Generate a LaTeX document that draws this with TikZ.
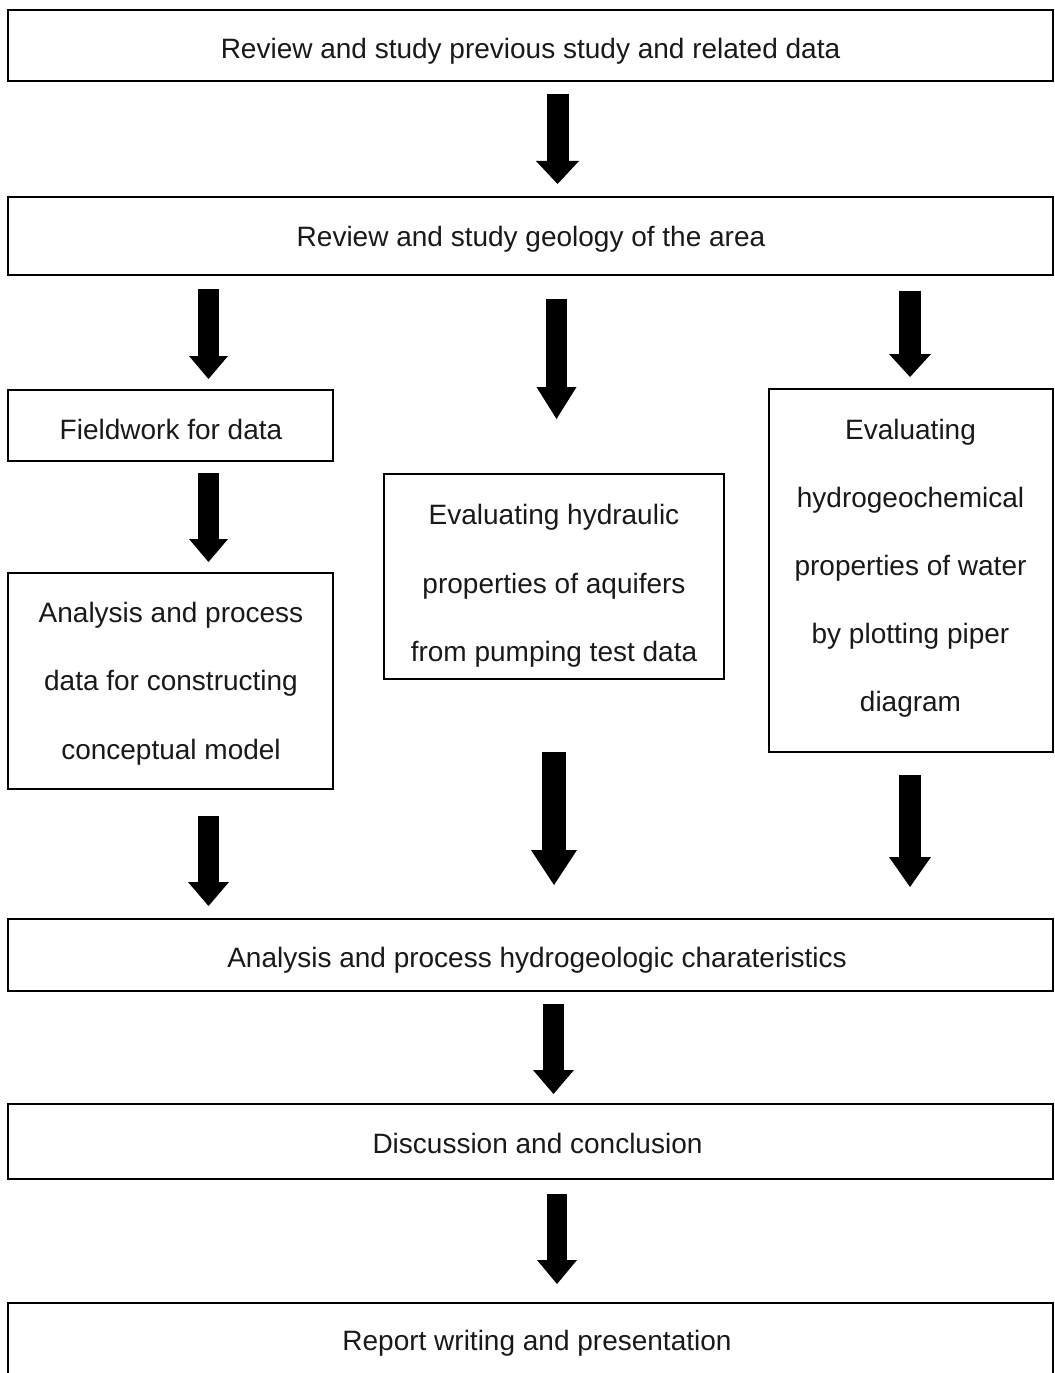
\documentclass[tikz,border=0pt]{standalone}
\usepackage{fontspec}
\setmainfont{Liberation Sans}
\usetikzlibrary{arrows.meta,fit}
\newcommand\tstrut{\rule[-0.21em]{0pt}{0.93em}}
\begin{document}
\begin{tikzpicture}[x=0.75pt,y=-0.75pt,
  box/.style={draw=black,line width=1.5pt,inner sep=0pt,fill=none},
  txt/.style={inner sep=0pt,align=center,font=\fontsize{21}{51.3}\selectfont,text=black!90},
  barrow/.style n args={3}{draw=black,line width=#1,line cap=butt,
     -{Triangle[width=#2,length=#3,line width=0pt]}}
]
\useasboundingbox (0,0) rectangle (1054,1373);
\clip (0,0) rectangle (1054,1373);
% boxes
\node[box,fit={(8,10)(1053,81)}] (b1) {};
\node[box,fit={(8,197)(1053,275)}] (b2) {};
\node[box,fit={(8,390)(333,461)}] (field) {};
\node[box,fit={(8,573)(333,789)}] (anal) {};
\node[box,fit={(384,474)(724,679)}] (mid) {};
\node[box,fit={(769,389)(1053,752)}] (right) {};
\node[box,fit={(8,919)(1053,991)}] (hydro) {};
\node[box,fit={(8,1104)(1053,1179)}] (disc) {};
\node[box,fit={(8,1303)(1053,1400)}] (rep) {};
% texts
\node[txt] (t1) at (530.5,51.2) {\tstrut Review and study previous study and related data};
\node[txt] (t2) at (531,239) {\tstrut Review and study geology of the area};
\node[txt] (tf) at (171,432) {\tstrut Fieldwork for data};
\node[txt,font=\fontsize{21}{51.4}\selectfont] (ta) at (171,683.4) {\tstrut Analysis and process\\\tstrut data for constructing\\\tstrut conceptual model};
\node[txt] (tm) at (554,586) {\tstrut Evaluating hydraulic\\\tstrut properties of aquifers\\\tstrut from pumping test data};
\node[txt,font=\fontsize{21}{51}\selectfont] (tr) at (910.5,568) {\tstrut Evaluating\\\tstrut hydrogeochemical\\\tstrut properties of water\\\tstrut by plotting piper\\\tstrut diagram};
\node[txt] (th) at (537,960) {\tstrut Analysis and process hydrogeologic charateristics};
\node[txt] (td) at (537.5,1146) {\tstrut Discussion and conclusion};
\node[txt] (trp) at (537,1343) {\tstrut Report writing and presentation};
% arrow axes
\coordinate (x1) at (557.5,0);
\coordinate (xL) at (208.5,0);
\coordinate (xM) at (556.5,0);
\coordinate (xR) at (910,0);
\coordinate (xM2) at (554,0);
\coordinate (x5) at (553.5,0);
\coordinate (x6) at (557,0);
% arrows
\draw[barrow={16.5pt}{32.25pt}{17.25pt},shorten <=9pt,shorten >=9pt] (b1.south -| x1) -- (b2.north -| x1);
\draw[barrow={15.75pt}{29.25pt}{17.25pt},shorten <=9.75pt,shorten >=7.5pt] (b2.south -| xL) -- (field.north -| xL);
\draw[barrow={15.75pt}{30pt}{24pt},shorten <=17.25pt,shorten >=40.5pt] (b2.south -| xM) -- (mid.north -| xM);
\draw[barrow={16.5pt}{31.5pt}{17.25pt},shorten <=11.25pt,shorten >=8.25pt] (b2.south -| xR) -- (right.north -| xR);
\draw[barrow={15.75pt}{29.25pt}{17.25pt},shorten <=8.25pt,shorten >=7.5pt] (field.south -| xL) -- (anal.north -| xL);
\draw[barrow={15.75pt}{30.75pt}{18pt},shorten <=19.5pt,shorten >=9pt] (anal.south -| xL) -- (hydro.north -| xL);
\draw[barrow={18pt}{34.5pt}{26.25pt},shorten <=54pt,shorten >=24.75pt] (mid.south -| xM2) -- (hydro.north -| xM2);
\draw[barrow={16.5pt}{31.5pt}{22.5pt},shorten <=16.5pt,shorten >=23.25pt] (right.south -| xR) -- (hydro.north -| xR);
\draw[barrow={15.75pt}{30.75pt}{18pt},shorten <=9pt,shorten >=6.75pt] (hydro.south -| x5) -- (disc.north -| x5);
\draw[barrow={15pt}{30pt}{18pt},shorten <=10.5pt,shorten >=13.5pt] (disc.south -| x6) -- (rep.north -| x6);
\end{tikzpicture}
\end{document}
